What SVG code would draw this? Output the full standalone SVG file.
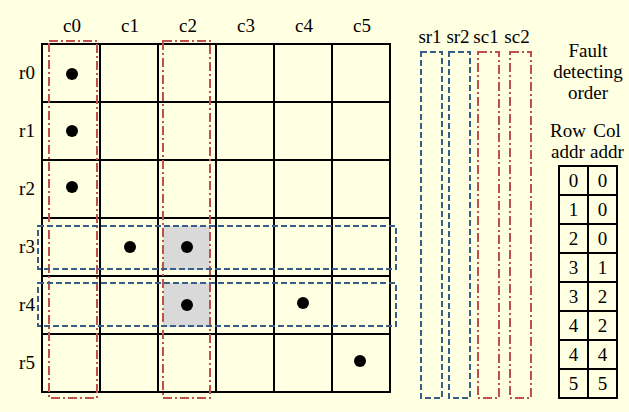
<svg xmlns="http://www.w3.org/2000/svg" width="629" height="412" viewBox="0 0 629 412">
<style>
text{font-family:"Liberation Serif","Times New Roman",serif;font-size:19px;fill:#000;text-anchor:middle}
.grid{fill:none;stroke:#000;stroke-width:2}
.red{fill:none;stroke:#C0504D;stroke-width:2;stroke-dasharray:9 3 2 3}
.blue{fill:none;stroke:#385D8A;stroke-width:2;stroke-dasharray:6 3}
.dot{fill:#000}
.gray{fill:#D9D9D9}
</style>
<rect x="0" y="0" width="629" height="412" fill="#FFFFE1"/>
<g id="highlight">
<rect class="gray" x="163" y="226" width="47" height="44"/>
<rect class="gray" x="163" y="283" width="47" height="44"/>
</g>
<g id="array">
<rect class="grid" x="42" y="44" width="348" height="348"/>
<path class="grid" d="M100 44V392M158 44V392M216 44V392M274 44V392M332 44V392M42 102H390M42 160H390M42 218H390M42 276H390M42 334H390"/>
</g>
<g id="col-labels">
<text x="72" y="32">c0</text>
<text x="130" y="32">c1</text>
<text x="188" y="32">c2</text>
<text x="246" y="32">c3</text>
<text x="304" y="32">c4</text>
<text x="362" y="32">c5</text>
</g>
<g id="row-labels">
<text x="27" y="79">r0</text>
<text x="27" y="137">r1</text>
<text x="27" y="195">r2</text>
<text x="27" y="253">r3</text>
<text x="27" y="311">r4</text>
<text x="27" y="369">r5</text>
</g>
<g id="faults">
<circle class="dot" cx="72" cy="74" r="6"/>
<circle class="dot" cx="72" cy="131" r="6"/>
<circle class="dot" cx="72" cy="187" r="6"/>
<circle class="dot" cx="130" cy="247" r="6"/>
<circle class="dot" cx="187" cy="247" r="6"/>
<circle class="dot" cx="187" cy="305" r="6"/>
<circle class="dot" cx="303" cy="303" r="6"/>
<circle class="dot" cx="360" cy="361" r="6"/>
</g>
<g id="col-repairs">
<rect class="red" x="49" y="41" width="48" height="357"/>
<rect class="red" x="163" y="41" width="47" height="357"/>
</g>
<g id="row-repairs">
<rect class="blue" x="38" y="226" width="358" height="43"/>
<rect class="blue" x="38" y="283" width="358" height="43"/>
</g>
<g id="spares">
<text x="430" y="43">sr1</text>
<text x="458" y="43">sr2</text>
<text x="486" y="43">sc1</text>
<text x="517" y="43">sc2</text>
<rect class="blue" x="421" y="52" width="21" height="346"/>
<rect class="blue" x="449" y="52" width="21" height="346"/>
<rect class="red" x="478" y="52" width="21" height="346"/>
<rect class="red" x="510" y="52" width="21" height="346"/>
</g>
<g id="order">
<text x="588" y="57">Fault</text>
<text x="588" y="78">detecting</text>
<text x="588" y="99">order</text>
<text x="568" y="137">Row</text>
<text x="607" y="137">Col</text>
<text x="568" y="158">addr</text>
<text x="607" y="158">addr</text>
<rect class="grid" x="559" y="166" width="58" height="232"/>
<path class="grid" d="M588 166V398M559 195H617M559 224H617M559 253H617M559 282H617M559 311H617M559 340H617M559 369H617"/>
<text x="573.5" y="187">0</text><text x="602.5" y="187">0</text>
<text x="573.5" y="216">1</text><text x="602.5" y="216">0</text>
<text x="573.5" y="245">2</text><text x="602.5" y="245">0</text>
<text x="573.5" y="274">3</text><text x="602.5" y="274">1</text>
<text x="573.5" y="303">3</text><text x="602.5" y="303">2</text>
<text x="573.5" y="332">4</text><text x="602.5" y="332">2</text>
<text x="573.5" y="361">4</text><text x="602.5" y="361">4</text>
<text x="573.5" y="390">5</text><text x="602.5" y="390">5</text>
</g>
</svg>
